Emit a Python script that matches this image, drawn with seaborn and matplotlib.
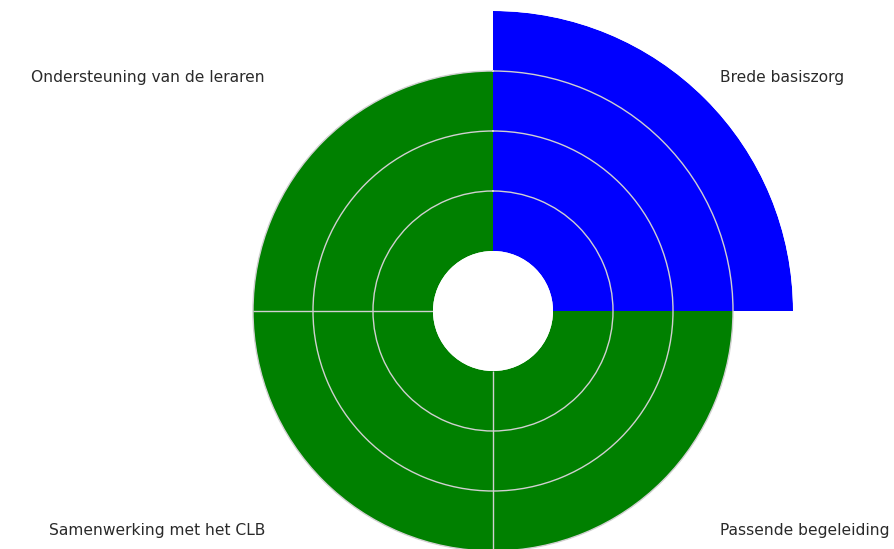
import numpy as np
import matplotlib
matplotlib.use("Agg")
import matplotlib.pyplot as plt
import seaborn as sns

categories = ["Brede basiszorg", "Passende begeleiding", "Samenwerking met het CLB", "Ondersteuning van de leraren"]
values = [4, 3, 3, 3]
colors = ["#0000ff", "#008000", "#008000", "#008000"]
angles_deg = [45, 135, 225, 315]
ring_ticks = [1, 2, 3]
divider_deg = [180, 270]

sns.set_theme(style="white")
plt.rcParams['font.family'] = ['DejaVu Sans']
plt.rcParams['axes.edgecolor'] = 'none'
plt.rcParams['axes.linewidth'] = 0

W, H = 894, 549
fig = plt.figure(figsize=(W / 100, H / 100), dpi=100)
cx, cy, R = 493, 311, 300
ax = fig.add_axes([(cx - R) / W, (H - cy - R) / H, 2 * R / W, 2 * R / H], projection="polar")
ax.set_theta_offset(np.pi / 2)
ax.set_theta_direction(-1)

theta = np.deg2rad(angles_deg)
ax.bar(theta, values, width=np.pi / 2, bottom=0, color=colors, edgecolor="none", linewidth=0, zorder=1)
ax.vlines(np.deg2rad(divider_deg), 0, 3, color="#d0d0d0", linewidth=1.0, zorder=3)
ax.set_rorigin(-1)
ax.set_ylim(0, 4)
ax.set_yticks(ring_ticks)
ax.set_yticklabels([])
ax.set_xticks([])
ax.set_axisbelow(False)
ax.yaxis.grid(True, color="#d0d0d0", linewidth=1.0)
ax.xaxis.grid(False)
for s in ax.spines.values():
    s.set_visible(False)
    s.set_edgecolor("none")
ax.patch.set_visible(False)

fs = 11.2
tc = "#2a2a2a"
fig.text(720 / W, 1 - 78 / H, categories[0], ha="left", va="center", fontsize=fs, color=tc)
fig.text(720 / W, 1 - 530 / H, categories[1], ha="left", va="center", fontsize=fs, color=tc)
fig.text(265 / W, 1 - 530 / H, categories[2], ha="right", va="center", fontsize=fs, color=tc)
fig.text(265 / W, 1 - 78 / H, categories[3], ha="right", va="center", fontsize=fs, color=tc)

fig.savefig("out.png", dpi=100)
